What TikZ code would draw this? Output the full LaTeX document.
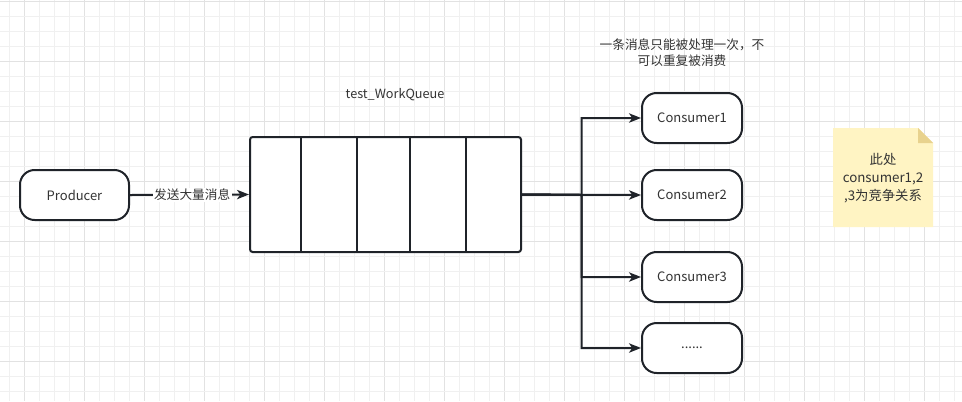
\documentclass[tikz,border=0pt]{standalone}
\usepackage{fontspec}
\setmainfont{Noto Sans CJK SC}
\usetikzlibrary{arrows.meta}
\definecolor{ink}{HTML}{1F2329}
\definecolor{txt}{HTML}{333333}
\definecolor{gridminor}{HTML}{F0F0F0}
\definecolor{gridmajor}{HTML}{E2E2E2}
\definecolor{notefill}{HTML}{FFF4C3}
\definecolor{notefold}{HTML}{E8D28E}
\tikzset{
  termbox/.style={draw=ink, line width=1.5pt, rounded corners=11pt, fill=white,
    minimum height=37.5pt, inner sep=0pt, text=txt, font=\fontsize{9.75}{12}\selectfont},
  plain/.style={text=txt, font=\fontsize{9.5}{12}\selectfont, align=center, inner sep=1pt},
  arr/.style={draw=ink, line width=1.5pt, -{Stealth[length=9pt,width=7pt,inset=2.5pt]}},
  cell/.style={draw=ink, line width=1.5pt},
}
\begin{document}
\begin{tikzpicture}[x=0.75pt,y=-0.75pt]
\useasboundingbox (0,0) rectangle (962,401);
\fill[white] (0,0) rectangle (962,401);
% grid
\foreach \i in {0,...,63} {
  \pgfmathsetmacro\xx{9+15*\i}
  \pgfmathtruncatemacro\mj{mod(\i,4)==1}
  \ifnum\mj=1 \draw[gridmajor, line width=0.75pt] (\xx,0) -- (\xx,401);
  \else \draw[gridminor, line width=0.75pt] (\xx,0) -- (\xx,401); \fi
}
\foreach \j in {0,...,26} {
  \pgfmathsetmacro\yy{1+15*\j}
  \pgfmathtruncatemacro\mj{mod(\j,4)==0}
  \ifnum\mj=1 \draw[gridmajor, line width=0.75pt] (0,\yy) -- (962,\yy);
  \else \draw[gridminor, line width=0.75pt] (0,\yy) -- (962,\yy); \fi
}

% producer
\node[termbox, minimum width=81.75pt] (prod) at (74.5,195) {Producer};

% queue
\node[draw=ink, line width=1.5pt, rounded corners=2pt, fill=white,
  minimum width=203.25pt, minimum height=86.25pt, inner sep=0pt] (q) at (385.5,194.5) {};
\draw[cell] (300.5,137) rectangle (357,252);
\draw[cell] (410,137) rectangle (466,252);
\node[plain] (qlabel) at (395,95) {test\_WorkQueue};

% producer -> queue
\draw[arr] (prod.east) -- (q.west)
  node[midway, fill=white, text=txt, font=\fontsize{9.5}{12}\selectfont, inner sep=1pt, xshift=2pt] (sendlbl) {发送大量消息};

% consumers
\node[termbox, minimum width=75pt] (c1) at (692,118) {Consumer1};
\node[termbox, minimum width=75pt] (c2) at (692,195) {Consumer2};
\node[termbox, minimum width=75pt] (c3) at (692,277) {Consumer3};
\node[termbox, minimum width=75pt] (c4) at (692,348) {......};

\node[plain] (hint) at (682,53) {一条消息只能被处理一次，不\\可以重复被消费};

\coordinate (br) at (581.5,195);
\draw[arr] (q.east) -- (br) |- (c1.west);
\draw[arr] (q.east) -- (c2.west);
\draw[arr] (q.east) -- (br) |- (c3.west);
\draw[arr] (q.east) -- (br) |- (c4.west);

% note
\fill[notefill] (833,128) -- (918,128) -- (933,143) -- (933,227) -- (833,227) -- cycle;
\fill[notefold] (918,128) -- (933,143) -- (918,143) -- cycle;
\node[plain, text width=75pt, font=\fontsize{10}{13.5}\selectfont] (note) at (883,178) {此处\\consumer1,2\\,3为竞争关系};
\end{tikzpicture}
\end{document}
